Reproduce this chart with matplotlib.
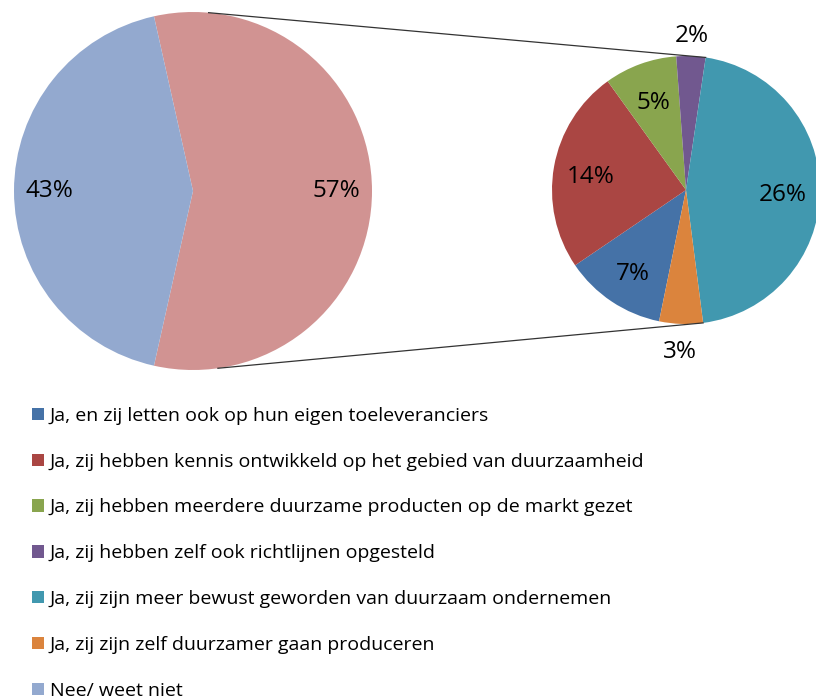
import numpy as np
import matplotlib.pyplot as plt

# data (percent of all respondents)
ja_labels = [
    "Ja, en zij letten ook op hun eigen toeleveranciers",
    "Ja, zij hebben kennis ontwikkeld op het gebied van duurzaamheid",
    "Ja, zij hebben meerdere duurzame producten op de markt gezet",
    "Ja, zij hebben zelf ook richtlijnen opgesteld",
    "Ja, zij zijn meer bewust geworden van duurzaam ondernemen",
    "Ja, zij zijn zelf duurzamer gaan produceren",
]
ja_values = [7, 14, 5, 2, 26, 3]
ja_colors = ["#4572A7", "#AA4643", "#89A54E", "#71588F", "#4198AF", "#DB843D"]

nee_label = "Nee/ weet niet"
nee_value = 43
nee_color = "#93A9CF"
other_color = "#D19392"

plt.rcParams['font.family'] = ['Open Sans', 'DejaVu Sans']

fig = plt.figure(figsize=(8.16, 7), dpi=100)
ax = fig.add_axes([0, 0, 1, 1])

# left pie: "other" (sum of Ja) vs Nee, other wedge centred on the right
left_c, left_r = (193, 509), 179
other_value = sum(ja_values)
lw, _ = ax.pie([other_value, nee_value], colors=[other_color, nee_color],
               center=left_c, radius=left_r, counterclock=False,
               startangle=180 * other_value / 100,
               wedgeprops=dict(linewidth=0), frame=True)
for w, v in zip(lw, [other_value, nee_value]):
    mid = np.deg2rad((w.theta1 + w.theta2) / 2)
    ax.text(left_c[0] + 0.8 * left_r * np.cos(mid), left_c[1] + 0.8 * left_r * np.sin(mid),
            f"{v}%", ha='center', va='center', fontsize=17.5)

# right pie: breakdown of Ja
right_c, right_r = (686, 510), 134
rw, _ = ax.pie(ja_values, colors=ja_colors, center=right_c, radius=right_r,
               counterclock=False, startangle=258.4,
               wedgeprops=dict(linewidth=0), frame=True)
for w, v in zip(rw, ja_values):
    mid = np.deg2rad((w.theta1 + w.theta2) / 2)
    d = 1.18 if v < 4 else 0.72
    ax.text(right_c[0] + d * right_r * np.cos(mid), right_c[1] + d * right_r * np.sin(mid) - 4,
            f"{v}%", ha='center', va='center', fontsize=17.5)

# connector lines
teal = rw[4]
for la, ra in [(85, teal.theta2), (-82, teal.theta1)]:
    la, ra = np.deg2rad(la), np.deg2rad(ra)
    ax.plot([left_c[0] + left_r * np.cos(la), right_c[0] + right_r * np.cos(ra)],
            [left_c[1] + left_r * np.sin(la), right_c[1] + right_r * np.sin(ra)],
            color='#333333', lw=0.9)

ax.set_xlim(0, 816)
ax.set_ylim(0, 700)
ax.set_aspect('equal')
ax.axis('off')

handles = list(rw) + [lw[1]]
labels = ja_labels + [nee_label]
fig.legend(handles, labels, loc='upper left', bbox_to_anchor=(0.03, 0.43),
           frameon=False, fontsize=14, handlelength=0.6, handleheight=0.6,
           handletextpad=0.3, labelspacing=1.43, borderaxespad=0)

fig.savefig("out.png", dpi=100)
